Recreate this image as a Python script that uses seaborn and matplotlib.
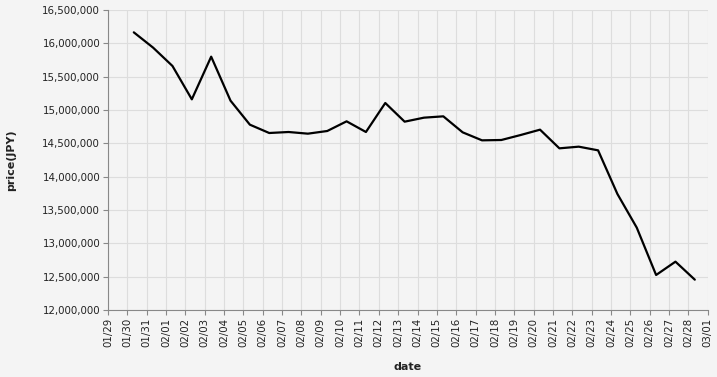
import matplotlib
matplotlib.use("Agg")
import matplotlib.pyplot as plt
import matplotlib.dates as mdates
import matplotlib.ticker as mticker
import seaborn as sns
import pandas as pd

dates = ["2025-01-30 08:00", "2025-01-31 08:00", "2025-02-01 08:00", "2025-02-02 08:00",
         "2025-02-03 08:00", "2025-02-04 08:00", "2025-02-05 08:00", "2025-02-06 08:00",
         "2025-02-07 08:00", "2025-02-08 08:00", "2025-02-09 08:00", "2025-02-10 08:00",
         "2025-02-11 08:00", "2025-02-12 08:00", "2025-02-13 08:00", "2025-02-14 08:00",
         "2025-02-15 08:00", "2025-02-16 08:00", "2025-02-17 08:00", "2025-02-18 08:00",
         "2025-02-19 08:00", "2025-02-20 08:00", "2025-02-21 08:00", "2025-02-22 08:00",
         "2025-02-23 08:00", "2025-02-24 08:00", "2025-02-25 08:00", "2025-02-26 08:00",
         "2025-02-27 08:00", "2025-02-28 08:00"]
prices = [16165000, 15935000, 15660000, 15160000, 15800000, 15140000, 14780000, 14655000,
          14670000, 14645000, 14685000, 14830000, 14670000, 15105000, 14825000, 14885000,
          14905000, 14665000, 14545000, 14550000, 14625000, 14705000, 14425000, 14450000,
          14395000, 13740000, 13235000, 12525000, 12725000, 12455000]

df = pd.DataFrame({"date": pd.to_datetime(dates), "price": prices})

sns.set_theme(style="whitegrid")
plt.rcParams['font.family'] = ['DejaVu Sans']
bg = "#f4f4f4"
fig = plt.figure(figsize=(7.17, 3.77), dpi=100, facecolor=bg)
W, H = 717, 377
ax = fig.add_axes([108 / W, 1 - 310 / H, (707.7 - 108) / W, 300 / H])
ax.set_facecolor(bg)

sns.lineplot(data=df, x="date", y="price", ax=ax, color="black", linewidth=1.6)

ax.set_xlim(pd.Timestamp("2025-01-29"), pd.Timestamp("2025-03-01"))
ax.set_ylim(12000000, 16500000)
ax.xaxis.set_major_locator(mdates.DayLocator())
ax.xaxis.set_major_formatter(mdates.DateFormatter("%m/%d"))
ax.yaxis.set_major_locator(mticker.MultipleLocator(500000))
ax.yaxis.set_major_formatter(mticker.FuncFormatter(lambda v, p: f"{int(v):,}"))

ax.grid(True, color="#dddddd", linewidth=0.8)
for s in ["top", "right"]:
    ax.spines[s].set_visible(False)
for s in ["left", "bottom"]:
    ax.spines[s].set_color("#888888")
    ax.spines[s].set_linewidth(0.8)

ax.tick_params(axis="both", which="major", length=3.6, width=0.8, color="#888888",
               labelsize=7.4, labelcolor="#222222", pad=2, direction="out",
               bottom=True, left=True)
plt.setp(ax.get_xticklabels(), rotation=90)

ax.set_xlabel("date", fontsize=8, fontweight="bold", color="#222222")
ax.set_ylabel("price(JPY)", fontsize=8, fontweight="bold", color="#222222")
ax.xaxis.set_label_coords(0.5, -0.173)
ax.yaxis.set_label_coords(-0.153, 0.5)

fig.savefig("out.png", dpi=100, facecolor=bg)
